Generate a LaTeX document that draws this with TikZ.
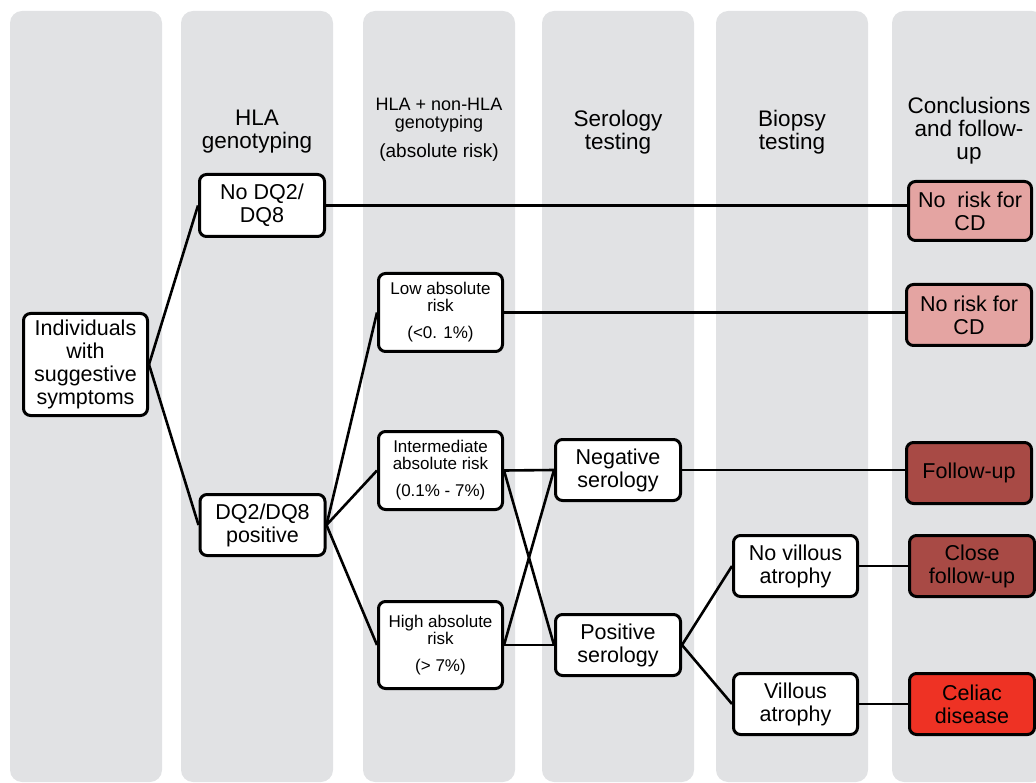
\documentclass[tikz,border=0pt]{standalone}
\usepackage{fontspec}
\setmainfont{Liberation Sans}
\definecolor{colgray}{RGB}{225,226,228}
\definecolor{nrcol}{RGB}{228,164,162}
\definecolor{fucol}{RGB}{168,74,69}
\definecolor{celcol}{RGB}{238,50,36}
\begin{document}
\begin{tikzpicture}[x=1pt,y=-1pt,
  column/.style={fill=colgray, rounded corners=12pt},
  box/.style={draw=black, line width=3pt, rounded corners=7pt, fill=white, align=center, inner sep=2pt,
    minimum width=125pt, minimum height=61pt, font=\fontsize{21.5}{23}\selectfont},
  smallbox/.style={box, minimum width=124pt, minimum height=78pt, font=\fontsize{17}{17}\selectfont},
  header/.style={align=center, inner sep=0pt, font=\fontsize{22.5}{23}\selectfont},
  link/.style={line width=2.6pt}]
\useasboundingbox (0,0) rectangle (1036,783);
\begin{scope}
\clip (0,0) rectangle (1036,783);
\fill[column] (10,11) rectangle (162,782);
\fill[column] (181,11) rectangle (333,782);
\fill[column] (363,11) rectangle (515,782);
\fill[column] (542,11) rectangle (694,782);
\fill[column] (716,11) rectangle (868,782);
\fill[column] (892,11) rectangle (1044,782);
\end{scope}

% headers
\node[header] (h2) at (257,132) {HLA\\genotyping};
\node[header, font=\fontsize{18}{18}\selectfont] (h3) at (439,130) {HLA + non-HLA\\genotyping\\[11pt]{\fontsize{19}{19}\selectfont(absolute risk)}};
\node[header] (h4) at (618,132) {Serology\\testing};
\node[header] (h5) at (792,132) {Biopsy\\testing};
\node[header] (h6) at (969,131) {Conclusions\\and follow-\\up};

% nodes
\node[box, minimum width=124pt, minimum height=102pt] (ind) at (85.5,364.5) {Individuals\\with\\suggestive\\symptoms};
\node[box, minimum height=62pt] (nodq) at (262,205.5) {No DQ2/\\DQ8};
\node[box] (dqpos) at (262.5,525) {DQ2/DQ8\\positive};
\node[smallbox] (low) at (440.5,312.5) {Low absolute\\risk\\[10pt](<0. 1\%)};
\node[smallbox] (inter) at (440.5,470.5) {Intermediate\\absolute risk\\[10pt](0.1\% - 7\%)};
\node[smallbox, minimum height=87pt] (high) at (440.5,645) {High absolute\\risk\\[10pt](> 7\%)};
\node[box] (neg) at (618,470) {Negative\\serology};
\node[box] (pos) at (618,645) {Positive\\serology};
\node[box, minimum width=124pt] (novil) at (795.5,566) {No villous\\atrophy};
\node[box, minimum width=124pt] (vil) at (795.5,704) {Villous\\atrophy};
\node[box, fill=nrcol, minimum width=123pt, minimum height=59pt] (nr1) at (970,211) {No\ \ risk for\\CD};
\node[box, fill=nrcol] (nr2) at (969,315) {No risk for\\CD};
\node[box, fill=fucol] (fu) at (969,473) {Follow-up};
\node[box, fill=fucol] (cfu) at (972,566) {Close\\follow-up};
\node[box, fill=celcol] (cel) at (972,704) {Celiac\\disease};

% connectors
\draw[link] (ind.east) -- (nodq.west);
\draw[link] (ind.east) -- (dqpos.west);
\draw[link] (nodq.east) -- (nodq.east -| nr1.west);
\draw[link] (dqpos.east) -- (low.west);
\draw[link] (dqpos.east) -- (inter.west);
\draw[link] (dqpos.east) -- (high.west);
\draw[link] (low.east) -- (low.east -| nr2.west);
\draw[link] (inter.east) -- (neg.west);
\draw[link] (inter.east) -- (pos.west);
\draw[link] (high.east) -- (neg.west);
\draw[link] (high.east) -- (pos.west);
\draw[link] (neg.east) -- (neg.east -| fu.west);
\draw[link] (pos.east) -- (novil.west);
\draw[link] (pos.east) -- (vil.west);
\draw[link] (novil.east) -- (cfu.west);
\draw[link] (vil.east) -- (cel.west);
\end{tikzpicture}
\end{document}
